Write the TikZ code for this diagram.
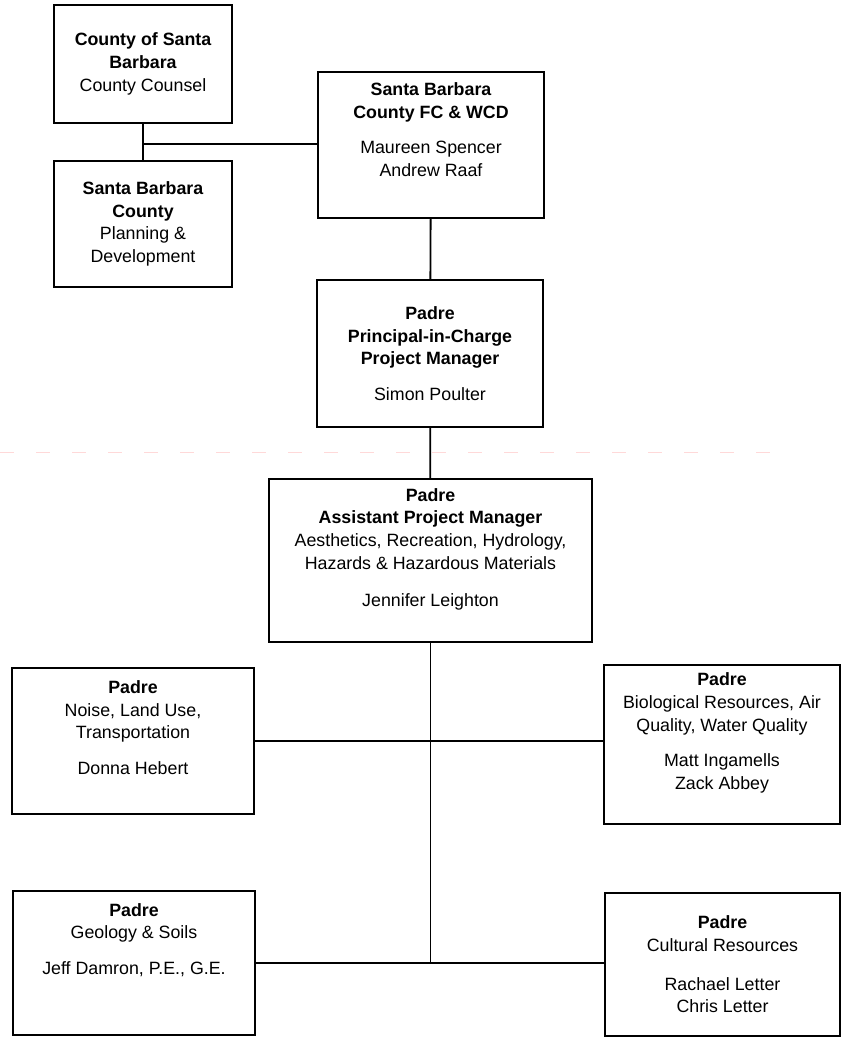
\documentclass[tikz,border=0pt]{standalone}
\usepackage{fontspec}
\setmainfont{Liberation Sans}
\newcommand\bfl[1]{{\bfseries #1}}
\begin{document}
\begin{tikzpicture}[x=1pt,y=-1pt,
  box/.style={draw, line width=1.8pt, fill=white, align=center, inner sep=0pt,
    font=\fontsize{17.8}{22.7}\selectfont},
  conn/.style={line width=1.8pt}]
\useasboundingbox (0,0) rectangle (841,1038);
% faint scan line
\draw[pink!60, line width=1pt, dash pattern=on 14pt off 22pt] (0,452) -- (775,452);

\node[box, minimum width=178pt, minimum height=118pt] (b1) at (143,64)
  {\bfl{County of Santa}\\\bfl{Barbara}\\County Counsel};
\node[box, minimum width=178pt, minimum height=126pt] (b2) at (143,224)
  {\bfl{Santa Barbara}\\\bfl{County}\\Planning \&\\Development};
\node[box, minimum width=226pt, minimum height=146pt] (b3) at (431,145)
  {\bfl{Santa Barbara}\\\bfl{County FC \& WCD}\\[13pt]Maureen Spencer\\Andrew Raaf\\[8pt]};
\node[box, minimum width=226pt, minimum height=147pt] (b4) at (430,353.5)
  {\bfl{Padre}\\\bfl{Principal-in-Charge}\\\bfl{Project Manager}\\[13pt]Simon Poulter};
\node[box, minimum width=323pt, minimum height=163pt] (b5) at (430.5,560.5)
  {\bfl{Padre}\\\bfl{Assistant Project Manager}\\Aesthetics, Recreation, Hydrology,\\Hazards \& Hazardous Materials\\[14pt]Jennifer Leighton\\[4pt]};
\node[box, minimum width=242pt, minimum height=146pt] (b6) at (133,741)
  {\bfl{Padre}\\Noise, Land Use,\\Transportation\\[13pt]Donna Hebert\\[4pt]};
\node[box, minimum width=236pt, minimum height=159pt] (b7) at (722,744.5)
  {\bfl{Padre}\\Biological Resources, Air\\Quality, Water Quality\\[13pt]Matt Ingamells\\Zack Abbey\\[4pt]};
\node[box, minimum width=242pt, minimum height=144pt] (b8) at (134,963)
  {\bfl{Padre}\\Geology \& Soils\\[13pt]Jeff Damron, P.E., G.E.\\[19pt]\strut};
\node[box, minimum width=235pt, minimum height=143pt] (b9) at (722.5,964.5)
  {\bfl{Padre}\\Cultural Resources\\[16pt]Rachael Letter\\Chris Letter};

\coordinate (j1) at (143,144);
\draw[conn] (b1) -- (b2);
\draw[conn] (j1) -- (j1 -| b3.west);
\draw[conn] (b3) -- (b4);
\draw[conn] (b4) -- (b5);
\coordinate (j2) at (b5.south |- b8.east);
\draw[conn] (b5.south) -- (j2);
\draw[conn] (b6.east) -- (b6.east -| b7.west);
\draw[conn] (b8.east) -- (b8.east -| b9.west);
\end{tikzpicture}
\end{document}
